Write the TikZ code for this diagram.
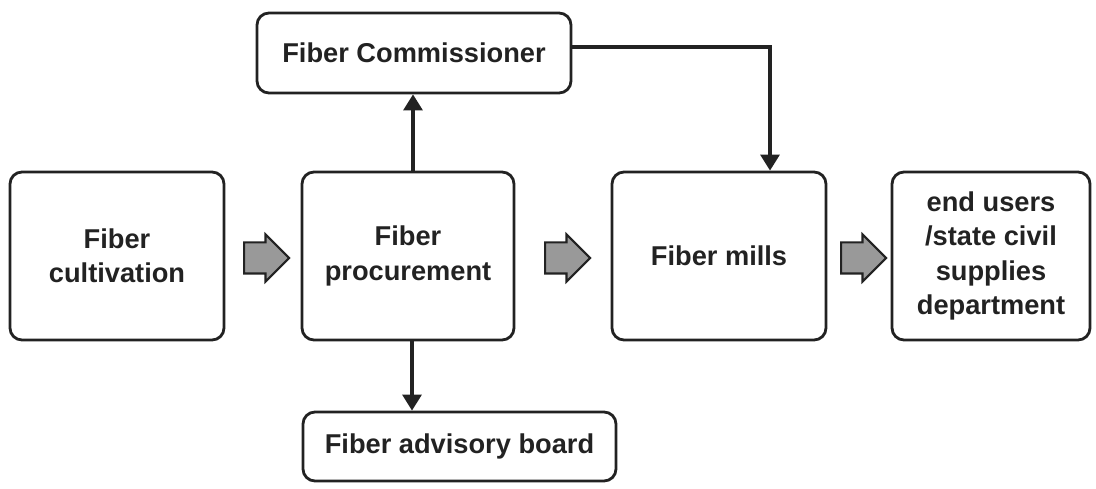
\documentclass[tikz,border=0pt]{standalone}
\usepackage{fontspec}
\setmainfont{Liberation Sans}
\usetikzlibrary{shapes.arrows, arrows.meta}

\definecolor{ink}{HTML}{222222}
\definecolor{flowgray}{HTML}{999999}

\begin{document}
\begin{tikzpicture}[
  box/.style={draw=ink,line width=1.6pt,rounded corners=0.24cm,align=center,
    font=\fontsize{15.5}{19.5}\selectfont\bfseries,text=ink,inner sep=0pt},
  flow/.style={single arrow,draw=ink,line width=1.2pt,fill=flowgray,
    minimum height=0.9cm,minimum width=0.9cm,single arrow head extend=0.16cm,
    inner xsep=0pt,inner ysep=0.29cm,anchor=tail},
  link/.style={draw=ink,line width=1.8pt,-{Triangle[length=0.32cm,width=0.38cm]}}
]
\useasboundingbox (0,0) rectangle (21.92,9.76);

\node[box,minimum width=4.28cm,minimum height=3.36cm] (cult) at (2.34,4.64) {Fiber\\cultivation};
\node[box,minimum width=4.24cm,minimum height=3.36cm] (proc) at (8.16,4.64) {Fiber\\procurement};
\node[box,minimum width=4.28cm,minimum height=3.36cm] (mills) at (14.38,4.64) {Fiber mills};
\node[box,minimum width=3.96cm,minimum height=3.36cm] (users) at (19.82,4.64) {end users\\/state civil\\supplies\\department};
\node[box,minimum width=6.28cm,minimum height=1.6cm] (comm) at (8.28,8.7) {Fiber Commissioner};
\node[box,minimum width=6.26cm,minimum height=1.38cm] (board) at (9.19,0.83) {Fiber advisory board};

% block arrows between the main stages
\node[flow] (f1) at (4.86,4.6) {};
\node[flow] (f2) at (10.88,4.6) {};
\node[flow] (f3) at (16.8,4.6) {};

\coordinate (drop) at ([xshift=1.02cm]mills.north);

\draw[link] ([xshift=0.1cm]proc.north) -- ([xshift=0.1cm]proc.north |- comm.south);
\draw[link] ([yshift=0.12cm]comm.east) -| (drop);
\draw[link] ([xshift=0.08cm]proc.south) -- ([xshift=0.08cm]proc.south |- board.north);
\end{tikzpicture}
\end{document}
